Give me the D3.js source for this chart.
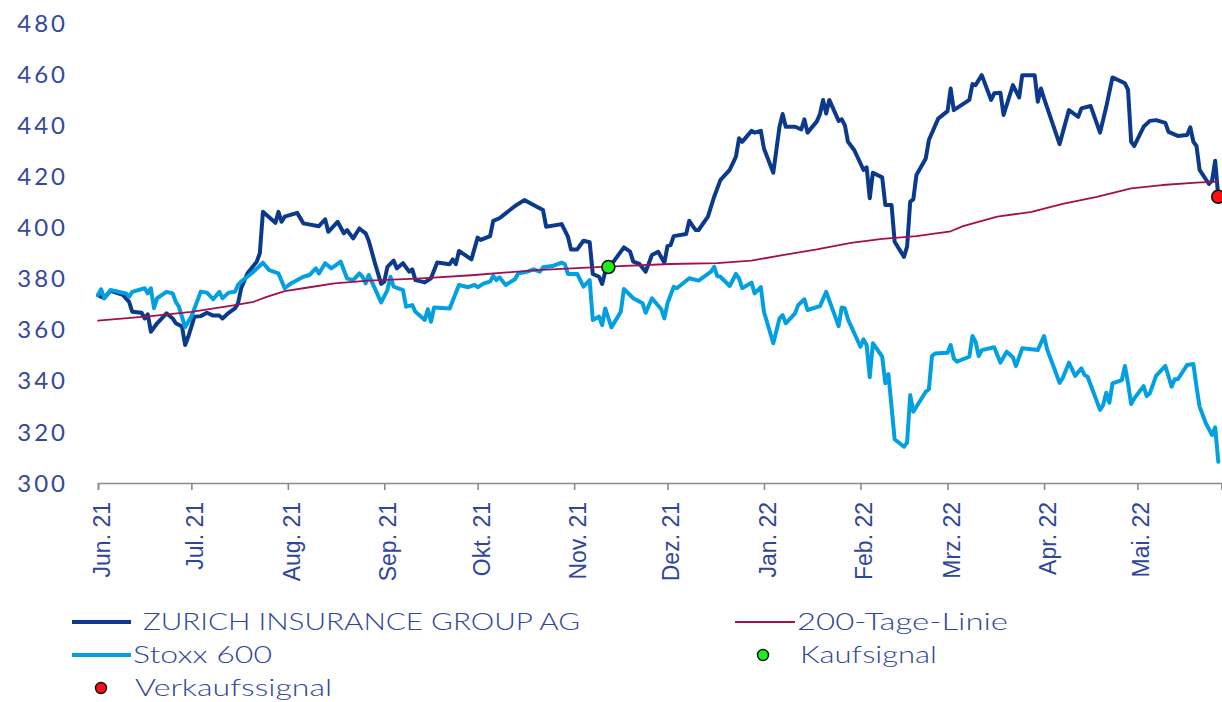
<!DOCTYPE html>
<html lang="de">
<head>
<meta charset="UTF-8" />
<title>Zurich Insurance Group vs. Stoxx 600</title>
<script src="https://d3js.org/d3.v7.min.js"></script>
<style>
  body { margin: 0; background: #fff; }
  svg { display: block; }
  .ylabel {
    font-family: "Lato", sans-serif;
    font-weight: 400;
    font-size: 24px;
    fill: #34499c;
    letter-spacing: 3px;
  }
  .xlabel {
    font-family: "Liberation Sans", Arial, sans-serif;
    font-size: 23px;
    fill: #2f469c;
  }
  .legend-text {
    font-family: "Lato", sans-serif;
    font-weight: 300;
    font-size: 23px;
    fill: #2f469c;
  }
  .series { fill: none; stroke-linejoin: round; stroke-linecap: round; }
</style>
</head>
<body>
<svg id="chart" width="1222" height="702"></svg>
<script>
// Data
const zurich = [
  ["2021-06-01",373.5],["2021-06-03",372.3],["2021-06-05",375.2],["2021-06-09",373.6],["2021-06-11",370.9],
  ["2021-06-12",367],["2021-06-15",366.6],["2021-06-16",364.4],["2021-06-17",366],["2021-06-18",359.2],
  ["2021-06-20",362.5],["2021-06-23",366.4],["2021-06-25",364.4],["2021-06-26",362.5],["2021-06-28",361.2],
  ["2021-06-29",354],["2021-06-30",357.2],["2021-07-02",365.1],["2021-07-04",365.3],["2021-07-06",366.6],
  ["2021-07-08",365.5],["2021-07-10",365.5],["2021-07-11",364.4],["2021-07-13",366.6],["2021-07-15",368.3],
  ["2021-07-16",370.3],["2021-07-17",376.2],["2021-07-19",382],["2021-07-22",386.6],["2021-07-23",389.9],
  ["2021-07-24",406.1],["2021-07-28",401.8],["2021-07-29",406.1],["2021-07-30",402.2],["2021-07-31",404.2],
  ["2021-08-04",405.7],["2021-08-06",401.6],["2021-08-11",400.5],["2021-08-13",403.2],["2021-08-14",398.3],
  ["2021-08-17",402.2],["2021-08-19",397.7],["2021-08-20",399],["2021-08-22",395.7],["2021-08-24",399.6],
  ["2021-08-26",397.7],["2021-08-27",394.8],["2021-08-29",386],["2021-08-31",377.9],["2021-09-01",378.8],
  ["2021-09-02",384.6],["2021-09-04",387],["2021-09-05",384],["2021-09-07",386],["2021-09-09",382.7],
  ["2021-09-10",383.6],["2021-09-11",379.4],["2021-09-14",378.5],["2021-09-16",380.1],["2021-09-18",386.3],
  ["2021-09-22",385.6],["2021-09-23",387.5],["2021-09-24",385.6],["2021-09-25",390.8],["2021-09-29",387.5],
  ["2021-10-01",396],["2021-10-02",395.1],["2021-10-05",396.6],["2021-10-06",402.6],["2021-10-08",403.6],
  ["2021-10-10",405.5],["2021-10-13",408.4],["2021-10-16",410.7],["2021-10-20",408.1],["2021-10-22",406.8],
  ["2021-10-23",400.3],["2021-10-28",401.3],["2021-10-30",396.4],["2021-10-31",391.4],["2021-11-02",391.4],
  ["2021-11-04",394.8],["2021-11-06",394.2],["2021-11-07",381.8],["2021-11-09",380.7],["2021-11-10",377.9],
  ["2021-11-11",382.7],["2021-11-14",387.2],["2021-11-17",392.2],["2021-11-19",390.5],["2021-11-20",386.6],
  ["2021-11-22",385.7],["2021-11-24",382.7],["2021-11-26",389.2],["2021-11-28",390.5],["2021-11-30",386.2],
  ["2021-12-01",392.7],["2021-12-02",393.1],["2021-12-03",396.6],["2021-12-07",397.4],["2021-12-08",402.6],
  ["2021-12-10",399],["2021-12-11",399],["2021-12-14",404.2],["2021-12-16",412],["2021-12-18",418.5],
  ["2021-12-21",422.5],["2021-12-23",427.7],["2021-12-24",434.9],["2021-12-25",433.5],["2021-12-28",437.8],
  ["2021-12-29",437.1],["2021-12-31",437.8],["2022-01-01",430.9],["2022-01-04",421.4],["2022-01-06",439.4],
  ["2022-01-07",444.4],["2022-01-08",439.4],["2022-01-11",439.4],["2022-01-13",438.4],["2022-01-14",442.3],
  ["2022-01-15",437.1],["2022-01-18",441.5],["2022-01-19",444.4],["2022-01-20",449.9],["2022-01-21",444.6],
  ["2022-01-22",449.9],["2022-01-25",441.7],["2022-01-26",442.3],["2022-01-27",440],["2022-01-28",433.5],
  ["2022-01-30",430.3],["2022-02-02",422.5],["2022-02-03",423.5],["2022-02-04",411.4],["2022-02-05",421.4],
  ["2022-02-08",419.6],["2022-02-09",408.8],["2022-02-11",408.8],["2022-02-12",394.4],["2022-02-15",388.5],
  ["2022-02-16",392.5],["2022-02-17",410.1],["2022-02-18",411],["2022-02-19",420.5],["2022-02-22",427],
  ["2022-02-23",434.2],["2022-02-26",442.6],["2022-03-01",445.5],["2022-03-02",454.4],["2022-03-03",445.9],
  ["2022-03-08",449.9],["2022-03-09",456.1],["2022-03-10",455.7],["2022-03-12",459.6],["2022-03-15",449.9],
  ["2022-03-16",452.5],["2022-03-18",452.7],["2022-03-19",444],["2022-03-22",455.7],["2022-03-24",450.9],
  ["2022-03-25",459.6],["2022-03-29",459.6],["2022-03-30",449.2],["2022-03-31",454.4],["2022-04-01",450.5],
  ["2022-04-06",432.6],["2022-04-09",445.9],["2022-04-12",443.3],["2022-04-13",446.6],["2022-04-16",447.5],
  ["2022-04-19",437.1],["2022-04-21",447.2],["2022-04-23",458.7],["2022-04-27",456.4],["2022-04-28",453.8],
  ["2022-04-29",433.5],["2022-04-30",431.9],["2022-05-03",439.4],["2022-05-05",441.7],["2022-05-07",442],
  ["2022-05-10",440.9],["2022-05-11",437.4],["2022-05-14",435.8],["2022-05-17",436.2],["2022-05-18",439.2],
  ["2022-05-19",433.5],["2022-05-20",431.9],["2022-05-21",422.5],["2022-05-24",417],["2022-05-25",418.3],
  ["2022-05-26",426.1],["2022-05-27",412]
];

const stoxx = [
  ["2021-06-01",373.6],["2021-06-02",375.8],["2021-06-03",372.3],["2021-06-05",375.5],["2021-06-10",374.2],
  ["2021-06-11",372.9],["2021-06-12",374.8],["2021-06-16",376.2],["2021-06-17",374.2],["2021-06-18",376.2],
  ["2021-06-19",368.4],["2021-06-20",372.3],["2021-06-23",374.8],["2021-06-25",374.2],["2021-06-26",370.9],
  ["2021-06-27",369],["2021-06-29",361],["2021-07-01",365.1],["2021-07-04",374.8],["2021-07-06",374.5],
  ["2021-07-08",371.9],["2021-07-10",374.8],["2021-07-11",372.3],["2021-07-13",374.5],["2021-07-15",374.8],
  ["2021-07-16",377.5],["2021-07-17",378.8],["2021-07-19",380.7],["2021-07-21",382.7],["2021-07-24",386.2],
  ["2021-07-26",383.3],["2021-07-29",382],["2021-07-31",376.2],["2021-08-02",378.1],["2021-08-06",380.7],
  ["2021-08-08",381.4],["2021-08-10",384],["2021-08-11",382],["2021-08-13",386],["2021-08-15",384],
  ["2021-08-18",386.6],["2021-08-20",380.1],["2021-08-22",379.4],["2021-08-24",382],["2021-08-25",380.7],
  ["2021-08-26",378.1],["2021-08-27",381.4],["2021-08-31",370.7],["2021-09-02",375.5],["2021-09-03",380.7],
  ["2021-09-04",376.8],["2021-09-07",375.5],["2021-09-08",369],["2021-09-10",369.6],["2021-09-11",367],
  ["2021-09-14",363.8],["2021-09-15",368],["2021-09-16",363.1],["2021-09-17",368.7],["2021-09-22",368.3],
  ["2021-09-25",377.5],["2021-09-28",376.6],["2021-09-30",377.5],["2021-10-01",376.6],["2021-10-03",378.1],
  ["2021-10-05",378.8],["2021-10-06",381],["2021-10-07",379.4],["2021-10-08",380.5],["2021-10-10",377.5],
  ["2021-10-13",379.7],["2021-10-14",382],["2021-10-17",382.7],["2021-10-19",383.6],["2021-10-21",382.7],
  ["2021-10-22",384.4],["2021-10-25",384.9],["2021-10-28",386.2],["2021-10-29",385.7],["2021-10-30",381.8],
  ["2021-11-02",381.8],["2021-11-04",376.8],["2021-11-06",379.4],["2021-11-07",363.8],["2021-11-09",365.1],
  ["2021-11-10",361.8],["2021-11-11",368.3],["2021-11-13",360.9],["2021-11-16",367],["2021-11-17",375.9],
  ["2021-11-20",372.3],["2021-11-23",370.3],["2021-11-24",366.6],["2021-11-26",372.3],["2021-11-29",368],
  ["2021-11-30",364.4],["2021-12-01",370.3],["2021-12-03",376.8],["2021-12-04",376.2],["2021-12-08",380.1],
  ["2021-12-11",379.2],["2021-12-15",382.7],["2021-12-16",384.6],["2021-12-17",381],["2021-12-18",380.7],
  ["2021-12-21",377.1],["2021-12-23",381.8],["2021-12-24",380.1],["2021-12-25",376.2],["2021-12-28",378.4],
  ["2021-12-29",374.2],["2021-12-31",376.6],["2022-01-01",367],["2022-01-04",354.7],["2022-01-06",364.4],
  ["2022-01-07",365.7],["2022-01-08",362.5],["2022-01-11",366.4],["2022-01-12",369.6],["2022-01-14",371.9],
  ["2022-01-15",367.7],["2022-01-19",369.2],["2022-01-21",374.8],["2022-01-25",361.4],["2022-01-26",368.7],
  ["2022-01-27",368.3],["2022-01-28",364],["2022-02-01",353.3],["2022-02-02",356.2],["2022-02-03",354],
  ["2022-02-04",341.4],["2022-02-05",354.7],["2022-02-08",349.4],["2022-02-09",339],["2022-02-10",342.6],
  ["2022-02-12",317.1],["2022-02-15",314.2],["2022-02-16",315.8],["2022-02-17",334.4],["2022-02-18",327.9],
  ["2022-02-22",335.7],["2022-02-23",336.7],["2022-02-24",349.7],["2022-02-25",350.7],["2022-03-01",351],
  ["2022-03-02",354],["2022-03-03",348.8],["2022-03-04",347.5],["2022-03-08",349.4],["2022-03-09",357.5],
  ["2022-03-10",355.3],["2022-03-11",349.7],["2022-03-12",352],["2022-03-16",353.1],["2022-03-18",347.1],
  ["2022-03-20",351.4],["2022-03-22",349.2],["2022-03-23",345.8],["2022-03-25",352.7],["2022-03-30",352],
  ["2022-04-01",357.5],["2022-04-02",352.3],["2022-04-06",339.2],["2022-04-07",341],["2022-04-09",347.1],
  ["2022-04-11",341.9],["2022-04-13",344.9],["2022-04-14",342.3],["2022-04-15",341.6],["2022-04-17",335.1],
  ["2022-04-19",328.6],["2022-04-20",330.5],["2022-04-21",335.3],["2022-04-22",331.4],["2022-04-23",339],
  ["2022-04-26",340.3],["2022-04-27",345.8],["2022-04-28",339],["2022-04-29",330.9],["2022-04-30",333.1],
  ["2022-05-03",337.9],["2022-05-04",334],["2022-05-05",335.1],["2022-05-07",341.9],["2022-05-10",345.8],
  ["2022-05-12",337.7],["2022-05-13",340.6],["2022-05-14",340.6],["2022-05-17",346.2],["2022-05-19",346.6],
  ["2022-05-20",337.7],["2022-05-21",329.9],["2022-05-23",323.4],["2022-05-25",318.8],["2022-05-26",321.8],
  ["2022-05-27",308.3]
];

const ma200 = [
  ["2021-06-01",363.5],["2021-06-18",365.3],["2021-07-01",367],["2021-07-14",369.4],["2021-07-21",370.9],
  ["2021-07-25",372.7],["2021-07-31",375.1],["2021-08-08",376.6],["2021-08-16",378.1],["2021-08-27",379.2],
  ["2021-09-13",380.1],["2021-09-29",381.3],["2021-10-20",383.3],["2021-11-10",384.6],["2021-12-02",385.7],
  ["2021-12-17",386],["2021-12-28",387],["2022-01-07",389.2],["2022-01-18",391.4],["2022-01-29",394],
  ["2022-02-08",395.5],["2022-02-19",396.6],["2022-03-02",398.5],["2022-03-06",400.5],["2022-03-17",404.2],
  ["2022-03-28",406.1],["2022-04-07",409.2],["2022-04-18",412],["2022-04-29",415.3],["2022-05-09",416.6],
  ["2022-05-20",417.5],["2022-05-27",417.9]
];

const buySignals = [["2021-11-12",384.5]];
const sellSignals = [["2022-05-27",412]];

const yTicks = [300, 320, 340, 360, 380, 400, 420, 440, 460, 480];
const monthTicks = ["2021-06-01","2021-07-01","2021-08-01","2021-09-01","2021-10-01","2021-11-01",
  "2021-12-01","2022-01-01","2022-02-01","2022-03-01","2022-04-01","2022-05-01"];
const monthLabels = ["Jun. 21","Jul. 21","Aug. 21","Sep. 21","Okt. 21","Nov. 21",
  "Dez. 21","Jan. 22","Feb. 22","Mrz. 22","Apr. 22","Mai. 22"];

// Colours
const cZurich = "#0b3a8c", cStoxx = "#03a0e1", cMA = "#a2104f";

const svg = d3.select("#chart");
const parse = d3.utcParse("%Y-%m-%d");

const x = d3.scaleUtc()
  .domain([parse("2021-06-01"), parse("2022-05-28")])
  .range([98, 1221.4]);
const y = d3.scaleLinear().domain([300, 480]).range([483, 23]);

// y labels (no axis line)
svg.append("g").selectAll("text")
  .data(yTicks)
  .join("text")
  .attr("class", "ylabel")
  .attr("x", 68)
  .attr("y", d => y(d))
  .attr("dy", "0.36em")
  .attr("text-anchor", "end")
  .text(d => d);

// x axis
const xAxis = d3.axisBottom(x)
  .tickValues(monthTicks.map(parse))
  .tickSize(7)
  .tickFormat("");
const gx = svg.append("g")
  .attr("transform", `translate(0,${y(300)})`)
  .call(xAxis);
gx.select(".domain").attr("stroke", "#8a8a8a").attr("stroke-width", 1.6);
gx.selectAll(".tick line").attr("stroke", "#8a8a8a").attr("stroke-width", 1.6);

svg.append("g").selectAll("text")
  .data(monthTicks)
  .join("text")
  .attr("class", "xlabel")
  .attr("transform", (d) => `translate(${x(parse(d)) + 12},${502}) rotate(-90)`)
  .attr("text-anchor", "end")
  .text((d, i) => monthLabels[i]);

// lines
const line = d3.line()
  .x(d => x(parse(d[0])))
  .y(d => y(d[1]));

svg.append("path").datum(zurich).attr("class", "series")
  .attr("stroke", cZurich).attr("stroke-width", 4).attr("d", line);
svg.append("path").datum(stoxx).attr("class", "series")
  .attr("stroke", cStoxx).attr("stroke-width", 4).attr("d", line);
svg.append("path").datum(ma200).attr("class", "series")
  .attr("stroke", cMA).attr("stroke-width", 1.8).attr("d", line);

// signals
svg.append("g").selectAll("circle")
  .data(buySignals)
  .join("circle")
  .attr("cx", d => x(parse(d[0])))
  .attr("cy", d => y(d[1]))
  .attr("r", 6.5)
  .attr("fill", "#1cf01c")
  .attr("stroke", "#111")
  .attr("stroke-width", 1.6);
svg.append("g").selectAll("circle")
  .data(sellSignals)
  .join("circle")
  .attr("cx", d => x(parse(d[0])))
  .attr("cy", d => y(d[1]))
  .attr("r", 6.5)
  .attr("fill", "#ff1010")
  .attr("stroke", "#111")
  .attr("stroke-width", 1.6);

// legend
const legend = svg.append("g");
function legendLine(x0, x1, yy, color, w) {
  legend.append("line").attr("x1", x0).attr("x2", x1).attr("y1", yy).attr("y2", yy)
    .attr("stroke", color).attr("stroke-width", w);
}
function legendDot(cx, cy, color) {
  legend.append("circle").attr("cx", cx).attr("cy", cy).attr("r", 5.5)
    .attr("fill", color).attr("stroke", "#111").attr("stroke-width", 1.4);
}
function legendText(tx, ty, label, len) {
  legend.append("text").attr("class", "legend-text")
    .attr("x", tx).attr("y", ty).attr("dy", "0.36em")
    .attr("textLength", len).attr("lengthAdjust", "spacingAndGlyphs")
    .text(label);
}
legendLine(72, 131, 622, cZurich, 4);
legendText(143, 622, "ZURICH INSURANCE GROUP AG", 437);
legendLine(735, 795, 622, cMA, 1.8);
legendText(797, 622, "200-Tage-Linie", 211);
legendLine(72, 131, 655, cStoxx, 4);
legendText(133, 655, "Stoxx 600", 139);
legendDot(763, 655, "#1cf01c");
legendText(800, 655, "Kaufsignal", 137);
legendDot(101, 688, "#ff1010");
legendText(135, 688, "Verkaufssignal", 197);
</script>
</body>
</html>
